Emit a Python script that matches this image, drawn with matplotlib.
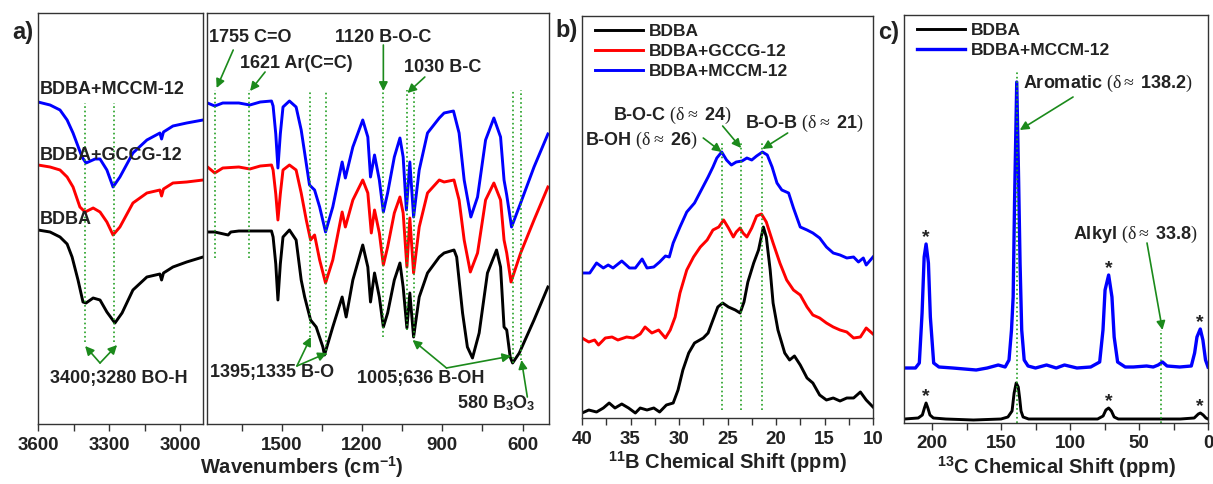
import matplotlib
matplotlib.use("Agg")
import matplotlib.pyplot as plt
import numpy as np

plt.rcParams['font.family'] = ['Liberation Sans', 'DejaVu Sans']
plt.rcParams['font.weight'] = 'bold'
plt.rcParams['mathtext.fontset'] = 'custom'
plt.rcParams['mathtext.rm'] = 'Liberation Serif:weight=normal'
plt.rcParams['mathtext.it'] = 'Liberation Serif:italic:weight=normal'
plt.rcParams['mathtext.bf'] = 'Liberation Sans:bold'
plt.rcParams['mathtext.default'] = 'rm'

BLACK = '#000000'
RED = '#ff0000'
BLUE = '#0000ff'
GREEN = '#22a022'
ARROW = '#1b8a1b'
TXT = '#222222'

# ---------------- FTIR, 3600-2900 cm-1 (offset transmittance, a.u.) ----------------
hi_wn_mccm = [3600, 3549, 3507, 3477, 3452, 3414, 3397, 3359, 3338, 3309, 3283, 3254,
              3199, 3140, 3085, 3078, 3070, 3030, 2972, 2903]
hi_mccm = [322, 319, 314, 304, 291, 267, 261, 265, 265, 254, 237, 247,
           271, 284, 291, 285, 292, 298, 301, 304]
hi_wn_gccg = [3600, 3549, 3507, 3477, 3452, 3423, 3401, 3367, 3338, 3309, 3283, 3254,
              3199, 3140, 3085, 3078, 3070, 3030, 2972, 2903]
hi_gccg = [259, 257, 254, 247, 237, 217, 212, 216, 212, 202, 189, 197,
           221, 231, 234, 228, 235, 241, 242, 244]
hi_wn_bdba = [3600, 3549, 3507, 3477, 3456, 3431, 3410, 3397, 3367, 3338, 3309, 3275,
              3245, 3199, 3140, 3085, 3078, 3070, 3030, 2972, 2903]
hi_bdba = [194, 192, 187, 180, 167, 144, 122, 121, 126, 124, 112, 101,
           111, 134, 147, 150, 144, 151, 157, 162, 167]

# ---------------- FTIR, 1780-500 cm-1 ----------------
lo_wn_mccm = [1777, 1750, 1720, 1660, 1619, 1580, 1538, 1532, 1522, 1514, 1505, 1495,
              1471, 1446, 1427, 1414, 1396, 1377, 1358, 1336, 1309, 1274, 1262, 1234,
              1197, 1178, 1168, 1153, 1135, 1120, 1104, 1079, 1058, 1046, 1034, 1021,
              1007, 986, 955, 911, 893, 858, 837, 818, 793, 768, 738, 707, 682, 669,
              659, 641, 607, 557, 505]
lo_mccm = [321, 318, 321, 321, 319, 322, 323, 318, 290, 256, 290, 317,
           323, 317, 294, 271, 239, 234, 217, 192, 217, 262, 246, 277,
           304, 287, 247, 269, 244, 212, 231, 267, 286, 267, 214, 262,
           207, 254, 291, 306, 311, 313, 291, 244, 207, 227, 284, 306, 287, 244,
           229, 197, 221, 257, 290]
lo_wn_gccg = [1777, 1750, 1720, 1660, 1619, 1580, 1538, 1532, 1522, 1514, 1505, 1495,
              1471, 1446, 1427, 1408, 1392, 1377, 1358, 1336, 1309, 1274, 1262, 1234,
              1197, 1178, 1165, 1153, 1135, 1120, 1104, 1079, 1058, 1046, 1032, 1021,
              1007, 986, 955, 911, 893, 856, 837, 818, 795, 768, 738, 707, 682, 669,
              659, 643, 607, 557, 505]
lo_gccg = [257, 251, 256, 257, 255, 258, 259, 254, 230, 204, 230, 254,
           259, 254, 231, 204, 184, 189, 164, 141, 164, 212, 197, 224,
           244, 231, 191, 214, 191, 159, 177, 211, 227, 211, 157, 206,
           151, 197, 231, 244, 242, 244, 224, 184, 152, 171, 224, 241, 224, 184,
           171, 142, 171, 204, 237]
lo_wn_bdba = [1777, 1750, 1700, 1690, 1660, 1580, 1538, 1532, 1522, 1514, 1505, 1495,
              1471, 1446, 1427, 1414, 1392, 1371, 1346, 1340, 1309, 1274, 1259, 1234,
              1197, 1178, 1168, 1153, 1135, 1120, 1104, 1079, 1058, 1046, 1032, 1021,
              1007, 986, 955, 911, 893, 856, 846, 824, 806, 787, 762, 731, 697, 682,
              669, 659, 646, 637, 612, 557, 505]
lo_bdba = [192, 192, 189, 192, 193, 193, 193, 187, 160, 124, 160, 187,
           194, 184, 144, 127, 104, 97, 77, 69, 97, 127, 107, 144,
           179, 157, 122, 151, 127, 97, 111, 144, 161, 137, 96, 131,
           87, 127, 151, 167, 171, 174, 167, 111, 77, 66, 91, 151, 174, 157,
           97, 94, 67, 61, 71, 104, 137]

# ---------------- 11B NMR ----------------
b_ppm_mccm = [40, 39.2, 38.5, 37.8, 37.3, 36.8, 35.9, 35.1, 34.5, 33.8, 33.3, 32.6, 32,
              31.4, 31, 30.6, 29.9, 29.2, 28.4, 27.7, 27, 26.5, 26.1, 25.6, 25.1, 24.6,
              24.1, 23.5, 23, 22.5, 22, 21.4, 20.9, 20.4, 19.9, 19.4, 18.7, 18.2, 17.5,
              16.8, 16.2, 15.5, 14.8, 14.1, 13.4, 12.7, 12, 11.5, 11, 10.7, 10]
b_mccm = [145, 145, 155, 150, 153, 150, 157, 150, 150, 159, 150, 151, 156,
          162, 161, 175, 191, 206, 215, 228, 241, 251, 260, 266, 258, 253,
          256, 257, 260, 258, 262, 266, 263, 251, 235, 228, 225, 210, 191,
          188, 185, 180, 171, 165, 163, 160, 161, 156, 160, 153, 161]
b_ppm_gccg = [40, 39.3, 38.7, 38.3, 37.6, 36.9, 36.3, 35.4, 34.7, 34, 33.5, 32.8, 32.1,
              31.4, 30.9, 30.4, 29.9, 29.2, 28.5, 27.8, 27.1, 26.5, 25.9, 25.4, 24.9,
              24.4, 24.1, 23.7, 23.4, 23, 22.5, 22, 21.5, 21, 20.3, 19.6, 18.9, 18.2,
              17.5, 16.8, 16.2, 15.5, 14.8, 14.1, 13.4, 12.7, 12, 11.3, 10.7, 10]
b_gccg = [80, 76, 78, 73, 80, 81, 78, 81, 80, 84, 91, 85, 88,
          80, 88, 101, 125, 148, 161, 171, 178, 188, 191, 198, 190,
          181, 186, 190, 185, 181, 190, 202, 204, 196, 175, 155, 138, 128,
          123, 111, 103, 100, 95, 91, 88, 86, 80, 81, 90, 84]
b_ppm_bdba = [40, 39.3, 38.5, 37.8, 37.2, 36.6, 35.9, 35.2, 34.5, 34, 33.3, 32.6, 32,
              31.3, 30.6, 30.1, 29.6, 29, 28.4, 27.5, 27, 26.5, 26, 25.5, 24.9, 24.2,
              23.7, 23.3, 22.9, 22.3, 21.8, 21.3, 21, 20.6, 20.3, 19.8, 19.1, 18.6,
              18.1, 17.5, 16.8, 16.2, 15.5, 14.8, 14.1, 13.4, 12.7, 12, 11.3, 10.7, 10]
b_bdba = [5, 8, 6, 10, 15, 10, 14, 10, 5, 10, 8, 10, 6,
          13, 15, 28, 48, 65, 75, 80, 85, 98, 111, 115, 111, 108,
          105, 116, 136, 155, 168, 191, 181, 148, 115, 88, 65, 58,
          62, 53, 40, 35, 23, 18, 20, 17, 20, 20, 26, 18, 11]

# ---------------- 13C NMR ----------------
c_ppm_mccm = [220, 212, 209.2, 207.2, 205.7, 204.3, 202.6, 201.2, 198.8, 195, 185, 168,
              160, 152, 147, 144.2, 142.4, 141.2, 140.2, 138.6, 137.2, 136.2, 135, 133.2,
              130.4, 125, 117, 110, 104, 95, 85, 78.5, 76.1, 74.6, 72, 69.6, 68.0,
              65.5, 60, 54.1, 44.5, 39.7, 36.1, 33, 29.7, 20.5, 12.1, 9.7, 8, 5.6, 3.7,
              1.8, 0]
c_mccm = [55, 55, 60, 110, 166, 179, 160, 106, 60, 56, 55, 53,
          55, 58, 56, 63, 93, 126, 220, 341, 240, 160, 93, 63,
          57, 55, 58, 55, 58, 55, 56, 61, 93, 133, 148, 126, 86,
          61, 56, 56, 57, 56, 58, 61, 57, 56, 57, 70, 86, 94, 83,
          63, 56]
c_ppm_bdba = [220, 210, 207, 205.5, 204.3, 203, 201.5, 199, 190, 170, 150, 145, 142,
              140.5, 139, 137.5, 136.5, 135.5, 134, 130, 100, 80, 76, 74, 72, 70, 68,
              65, 40, 20, 10, 7, 5.5, 3.5, 1.5, 0]
c_bdba = [4, 5, 8, 15, 20, 15, 8, 5, 4, 3, 4, 6, 12,
          30, 40, 36, 25, 12, 6, 4, 4, 4, 7, 13, 15, 12, 6,
          4, 4, 4, 5, 9, 10, 8, 5, 4]
c_star_ppm = [204.3, 72, 5.6]

ir_lines = [1748, 1621, 1395, 1335, 1120, 1030, 1005, 636, 605]
ir_line_bottoms = [166, 166, 87, 69, 87, 94, 87, 61, 64]
oh_lines = [3400, 3280]
b_lines = [25.6, 23.6, 21.4]
c_lines = [138.2, 33.8]
c_line_tops = [353, 93]

fig = plt.figure(figsize=(12.13, 4.84), dpi=100)
W, H = 1213, 484


def box(x0, y0, x1, y1):
    return fig.add_axes([x0 / W, 1 - y1 / H, (x1 - x0) / W, (y1 - y0) / H])


def style(ax):
    for s in ax.spines.values():
        s.set_linewidth(1.0)
        s.set_color('#333333')
    ax.set_yticks([])
    ax.tick_params(axis='x', which='both', direction='out', length=5, width=1,
                   labelsize=13.5, colors='#333333', labelcolor=TXT, pad=4)


def arrow(ax, head, tail):
    ax.annotate('', xy=head, xytext=tail,
                arrowprops=dict(arrowstyle='-|>', color=ARROW, lw=1.2,
                                mutation_scale=13, shrinkA=0, shrinkB=0))


lw = 2.1
fs = 13

# ---- a) left ----
axa1 = box(38, 13, 203, 424)
axa1.plot(hi_wn_mccm, hi_mccm, color=BLUE, lw=lw)
axa1.plot(hi_wn_gccg, hi_gccg, color=RED, lw=lw)
axa1.plot(hi_wn_bdba, hi_bdba, color=BLACK, lw=lw)
for w in oh_lines:
    axa1.plot([w, w], [82, 321], ls=':', color=GREEN, lw=1.2)
axa1.set_xlim(3600, 2903)
axa1.set_ylim(0, 411)
axa1.set_xticks([3600, 3300, 3000])
axa1.set_xticks([3450, 3150], minor=True)
style(axa1)
axa1.text(3592, 335, 'BDBA+MCCM-12', fontsize=fs, color=TXT, va='center')
axa1.text(3592, 269, 'BDBA+GCCG-12', fontsize=fs, color=TXT, va='center')
axa1.text(3592, 204, 'BDBA', fontsize=fs, color=TXT, va='center')
axa1.text(3258, 46, '3400;3280 BO-H', fontsize=fs, color=TXT, ha='center', va='center')
arrow(axa1, (3401, 78), (3338, 61))
arrow(axa1, (3266, 79), (3338, 61))

# ---- a) right ----
axa2 = box(207, 13, 549, 424)
axa2.plot(lo_wn_mccm, lo_mccm, color=BLUE, lw=lw)
axa2.plot(lo_wn_gccg, lo_gccg, color=RED, lw=lw)
axa2.plot(lo_wn_bdba, lo_bdba, color=BLACK, lw=lw)
for w, b in zip(ir_lines, ir_line_bottoms):
    axa2.plot([w, w], [b, 334], ls=':', color=GREEN, lw=1.2)
axa2.set_xlim(1779, 501)
axa2.set_ylim(0, 411)
axa2.set_xticks([1500, 1200, 900, 600])
axa2.set_xticks([1650, 1350, 1050, 750], minor=True)
style(axa2)
axa2.text(1771, 386, '1755 C=O', fontsize=fs, color=TXT, va='center')
arrow(axa2, (1743, 336), (1681, 374))
axa2.text(1656, 361, '1621 Ar(C=C)', fontsize=fs, color=TXT, va='center')
arrow(axa2, (1618, 333), (1562, 352))
axa2.text(1301, 387, '1120 B-O-C', fontsize=fs, color=TXT, va='center')
arrow(axa2, (1120, 333), (1120, 379))
axa2.text(1044, 356, '1030 B-C', fontsize=fs, color=TXT, va='center')
arrow(axa2, (1030, 331), (965, 347))
axa2.text(1768, 52, '1395;1335 B-O', fontsize=fs, color=TXT, va='center')
arrow(axa2, (1391, 87), (1443, 58))
arrow(axa2, (1331, 71), (1443, 58))
axa2.text(1219, 45, '1005;636 B-OH', fontsize=fs, color=TXT, va='center')
arrow(axa2, (1011, 84), (884, 56))
arrow(axa2, (642, 68), (884, 56))
axa2.text(843, 21, r'580 B$_{\mathbf{3}}$O$_{\mathbf{3}}$', fontsize=fs, color=TXT, va='center')
arrow(axa2, (604, 64), (582, 27))

fig.text(302 / W, 1 - 467 / H, r'Wavenumbers (cm$^{\mathbf{-1}}$)', fontsize=14.5,
         color=TXT, ha='center', va='center')
fig.text(12 / W, 1 - 33 / H, 'a)', fontsize=17, color=TXT, va='center')

# ---- b) 11B NMR ----
axb = box(582, 16, 873, 418)
axb.plot(b_ppm_bdba, b_bdba, color=BLACK, lw=lw, label='BDBA')
axb.plot(b_ppm_gccg, b_gccg, color=RED, lw=lw, label='BDBA+GCCG-12')
axb.plot(b_ppm_mccm, b_mccm, color=BLUE, lw=lw, label='BDBA+MCCM-12')
for p in b_lines:
    axb.plot([p, p], [8, 275], ls=':', color=GREEN, lw=1.2)
axb.set_xlim(40, 10)
axb.set_ylim(0, 402)
axb.set_xticks([40, 35, 30, 25, 20, 15, 10])
axb.set_xticks(np.arange(37.5, 10, -5), minor=True)
style(axb)
axb.set_xlabel(r'$^{\mathbf{11}}$B Chemical Shift (ppm)', fontsize=14.5, color=TXT,
               fontweight='bold', labelpad=2)
leg = axb.legend(loc='upper left', bbox_to_anchor=(-0.01, 1.02), frameon=False,
                 fontsize=12.5, handlelength=2.8, handletextpad=0.3, labelspacing=0.3)
for t in leg.get_texts():
    t.set_color(TXT)
axb.text(39.7, 278, r'B-OH $(\delta\approx$ 26$)$', fontsize=fs, color=TXT, va='center')
arrow(axb, (25.6, 266), (27.5, 280))
axb.text(36.8, 303, r'B-O-C $(\delta\approx$ 24$)$', fontsize=fs, color=TXT, va='center')
arrow(axb, (23.6, 270), (25.5, 292))
axb.text(23.2, 295, r'B-O-B $(\delta\approx$ 21$)$', fontsize=fs, color=TXT, va='center')
arrow(axb, (21.4, 269), (18.8, 285))
fig.text(555 / W, 1 - 31 / H, 'b)', fontsize=17, color=TXT, va='center')

# ---- c) 13C NMR ----
axc = box(904, 15, 1208, 423)
axc.plot(c_ppm_bdba, c_bdba, color=BLACK, lw=lw, label='BDBA')
axc.plot(c_ppm_mccm, c_mccm, color=BLUE, lw=2.4, label='BDBA+MCCM-12')
for p, top in zip(c_lines, c_line_tops):
    axc.plot([p, p], [0, top], ls=':', color=GREEN, lw=1.2)
axc.set_xlim(220.3, 0)
axc.set_ylim(0, 408)
axc.set_xticks([200, 150, 100, 50, 0])
axc.set_xticks([175, 125, 75, 25], minor=True)
style(axc)
axc.set_xlabel(r'$^{\mathbf{13}}$C Chemical Shift (ppm)', fontsize=14.5, color=TXT,
               fontweight='bold', labelpad=2)
leg = axc.legend(loc='upper left', bbox_to_anchor=(-0.01, 1.02), frameon=False,
                 fontsize=12.5, handlelength=2.8, handletextpad=0.3, labelspacing=0.3)
for t in leg.get_texts():
    t.set_color(TXT)
for xs, ys in [(c_ppm_mccm, c_mccm), (c_ppm_bdba, c_bdba)]:
    for p in c_star_ppm:
        top = max(y for x, y in zip(xs, ys) if abs(x - p) < 4)
        axc.text(p, top + 6, '*', fontsize=14, color=TXT, ha='center', va='center')
axc.text(134, 340, r'Aromatic $(\delta\approx$ 138.2$)$', fontsize=fs, color=TXT, va='center')
arrow(axc, (136.4, 293), (97.8, 326))
axc.text(97.8, 189, r'Alkyl $(\delta\approx$ 33.8$)$', fontsize=fs, color=TXT, va='center')
arrow(axc, (33.0, 93), (44.2, 180))
fig.text(878 / W, 1 - 32 / H, 'c)', fontsize=17, color=TXT, va='center')

fig.savefig('out.png', dpi=100)
